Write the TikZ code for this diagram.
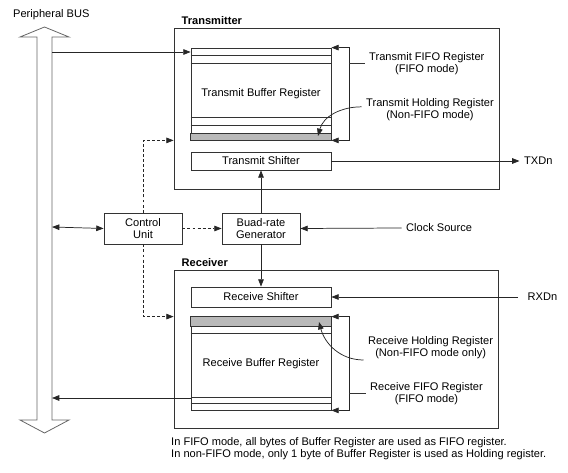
\documentclass[tikz,border=0pt]{standalone}
\usepackage{fontspec}
\setmainfont{Liberation Sans}
\usetikzlibrary{arrows.meta,calc}
\newcommand{\dfont}{\fontsize{8.3}{9.2}\selectfont}
\tikzstyle{blockbox} = [rectangle, draw=black!80, line width=0.6pt, inner sep=0pt]
\tikzstyle{regbox} = [rectangle, draw=black!80, line width=0.6pt, minimum width=105pt, inner sep=0pt, text centered]
\tikzstyle{ctlbox} = [rectangle, draw=black!80, line width=0.6pt, minimum width=58.5pt, minimum height=23.25pt, inner sep=0pt, align=center]
\tikzstyle{regline} = [draw=black!80, line width=0.5pt]
\tikzstyle{hatch} = [draw=black!80, line width=0.5pt, fill=gray!55]
\tikzstyle{busline} = [draw=black!60, line width=0.6pt]
\tikzstyle{arrow} = [draw=black!85, line width=0.55pt, ->, >={Triangle[length=5.5pt,width=4.2pt]}]
\tikzstyle{ctlflow} = [dash pattern=on 2.2pt off 1.6pt]

\begin{document}
\begin{tikzpicture}[x=0.75pt, y=-0.75pt, font=\dfont]
      \useasboundingbox (0,0) rectangle (568,473);
      % peripheral bus
      \draw[busline] (44.5,27) -- (69,37) -- (52,37) -- (52,420) -- (69,420) -- (44.5,433)
            -- (20,420) -- (37,420) -- (37,37) -- (20,37) -- cycle;
      \node (bustitle)[anchor=west] at (8.5,15) {Peripheral BUS};
      \coordinate (bustx) at (52,52);
      \coordinate (busctl) at (52,227);
      \coordinate (busrx) at (52,398);
      % transmitter
      \node (tx)[blockbox, minimum width=243.75pt, minimum height=120.75pt] at (336.5,108.5) {};
      \node (txtitle)[anchor=west, font=\dfont\bfseries] at (177,21) {Transmitter};
      \node (txbuf)[regbox, minimum height=69pt] at (261,94) {Transmit Buffer Register};
      \foreach \y in {55,63,117,125}
        \draw[regline] (txbuf.west |- 0,\y) -- (txbuf.east |- 0,\y);
      \draw[hatch] (txbuf.west |- 0,133) rectangle (txbuf.south east);
      \node (txsh)[regbox, minimum height=13.5pt] at (261,161) {Transmit Shifter};
      \node (txfifo)[anchor=west, align=center] at (364.5,63.5) {Transmit FIFO Register\\(FIFO mode)};
      \node (txhold)[anchor=west, align=center] at (361.5,109.5) {Transmit Holding Register\\(Non-FIFO mode)};
      \coordinate (txholdpt) at (318,136);
      % control
      \node (ctrl)[ctlbox] at (143,228.5) {Control\\Unit};
      \node (baud)[ctlbox] at (261,228.5) {Buad-rate\\Generator};
      \node (clk)[anchor=west] at (401.5,228) {Clock Source};
      \node (txd)[anchor=west] at (519.5,161) {TXDn};
      \node (rxd)[anchor=west] at (523,297) {RXDn};
      % receiver
      \node (rx)[blockbox, minimum width=243pt, minimum height=118.5pt] at (336,349) {};
      \node (rxtitle)[anchor=west, font=\dfont\bfseries] at (177,263) {Receiver};
      \node (rxsh)[regbox, minimum height=15pt] at (261,297) {Receive Shifter};
      \node (rxbuf)[regbox, minimum height=69.75pt] at (261,363.5) {Receive Buffer Register};
      \draw[hatch] (rxbuf.north west) rectangle (rxbuf.east |- 0,326);
      \foreach \y in {333,397,403}
        \draw[regline] (rxbuf.west |- 0,\y) -- (rxbuf.east |- 0,\y);
      \node (rxhold)[anchor=west, align=center] at (363.5,348) {Receive Holding Register\\(Non-FIFO mode only)};
      \node (rxfifo)[anchor=west, align=center] at (365.5,393.5) {Receive FIFO Register\\(FIFO mode)};
      \coordinate (rxholdpt) at (319,322);
      \node (note)[anchor=west, align=left] at (166.5,449) {In FIFO mode, all bytes of Buffer Register are used as FIFO register.\\In non-FIFO mode, only 1 byte of Buffer Register is used as Holding register.};
      % connectors
      \draw[arrow] (bustx) -- (bustx -| txbuf.west);
      \draw[arrow, <->] (busctl) -- (ctrl.west);
      \draw[arrow, ctlflow] (ctrl.north) |- (tx.west |- txbuf.south);
      \draw[arrow, ctlflow] (ctrl.south) |- (rx.west |- rxbuf.north);
      \draw[arrow, ctlflow] (ctrl.east) -- (baud.west);
      \draw[arrow] (baud.north) -- (txsh.south);
      \draw[arrow] (baud.south) -- (rxsh.north);
      \draw[arrow] (clk.west) -- (baud.east);
      \draw[arrow] (txsh.east) -- (txd.west);
      \draw[arrow] ([xshift=-3.75pt]rxd.west) -- (rxsh.east);
      \draw[arrow] (rxbuf.west |- busrx) -- (busrx);
      % fifo brackets
      \draw[arrow, <->] (txbuf.north east) -- ++(13.5pt,0) coordinate (txbr) |- (txbuf.south east);
      \draw[regline] (txfifo.west) -- (txfifo.west -| txbr);
      \draw[arrow] ([yshift=2pt]txhold.west) to[out=180, in=75] (txholdpt);
      \draw[arrow, <->] (rxbuf.north east) -- ++(13.5pt,0) coordinate (rxbr) |- (rxbuf.south east);
      \draw[regline] (rxfifo.west) -- (rxfifo.west -| rxbr);
      \draw[arrow] ([yshift=-9pt]rxhold.west) to[out=180, in=-75] (rxholdpt);
    \end{tikzpicture}
\end{document}
